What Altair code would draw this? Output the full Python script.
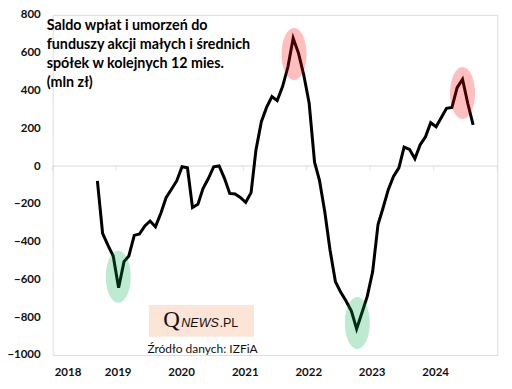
import altair as alt
import pandas as pd

# Monthly 12-month rolling net flows (mln zł), Sep 2018 - Aug 2024
start_month = "2018-09"
values = [
    -79, -356, -420, -476, -644, -506, -476, -367, -360, -317, -291, -321,
    -250, -168, -123, -79, -4, -9, -220, -203, -118, -65, -4, 0,
    -65, -145, -148, -166, -192, -141, 85, 234, 310, 367, 346, 420,
    525, 676, 596, 481, 332, 20, -74, -243, -444, -612, -667, -714,
    -767, -862, -775, -690, -560, -310, -225, -125, -55, -10, 100, 88,
    38, 111, 155, 229, 208, 258, 305, 310, 415, 459, 332, 218,
]
months = [d.strftime("%Y-%m-15") for d in pd.date_range(start_month + "-01", periods=len(values), freq="MS")]

hl_dates = ["2019-01-13", "2021-10-20", "2022-10-19", "2024-06-15"]
hl_values = [-586, 593, -831, 386]
hl_kind = ["low", "high", "low", "high"]

year_ticks = [2018, 2019, 2020, 2021, 2022, 2023, 2024, 2025]
year_labels = [2018, 2019, 2020, 2021, 2022, 2023, 2024]
y_ticks = [-1000, -800, -600, -400, -200, 0, 200, 400, 600, 800]

title_lines = ["Saldo wpłat i umorzeń do", "funduszy akcji małych i średnich",
               "spółek w kolejnych 12 mies.", "(mln zł)"]
source_text = "Źródło danych: IZFiA"

FONT = "Lato"
df = pd.DataFrame({"date": months, "value": values})
hl = pd.DataFrame({"date": hl_dates, "value": hl_values, "kind": hl_kind})
ticks_df = pd.DataFrame({"date": [f"{y}-01-01" for y in year_ticks], "value": [0] * len(year_ticks)})

x_scale = alt.Scale(type="utc",
                    domain=[alt.DateTime(year=2018, month=1, date=1, utc=True),
                            alt.DateTime(year=2025, month=1, date=1, utc=True)])
y_scale = alt.Scale(domain=[-1000, 800], nice=False, zero=False)

x_axis = alt.Axis(values=[alt.DateTime(year=y, month=1, date=1, utc=True) for y in year_labels],
                  format="%Y", formatType="utc", title=None, domain=False, ticks=False, grid=False,
                  labelFont=FONT, labelFontSize=11.5, labelFontWeight="bold", labelColor="#111111",
                  labelPadding=12, labelOffset=1.5)
y_axis = alt.Axis(values=y_ticks, format="d", title=None, domain=False, ticks=False, grid=False,
                  labelFont=FONT, labelFontSize=11.5, labelFontWeight="bold", labelColor="#111111",
                  labelPadding=12.5)

X = alt.X("date:T", scale=x_scale, axis=x_axis)
Y = alt.Y("value:Q", scale=y_scale, axis=y_axis)

base = alt.Chart(df)

zero_rule = alt.Chart(ticks_df).mark_rule(color="#d9d9d9", strokeWidth=1).encode(
    x=alt.X("min(date):T", scale=x_scale, axis=x_axis),
    x2="max(date):T",
    y=alt.Y("min(value):Q", scale=y_scale, axis=y_axis),
)
tick_marks = alt.Chart(ticks_df).mark_tick(color="#d9d9d9", orient="vertical", size=5,
                                           thickness=1, yOffset=2.5).encode(x=X, y=Y)

line = base.mark_line(color="#000000", strokeWidth=3, strokeJoin="miter").encode(x=X, y=Y)

ellipse = ("M 0 -1 C 0.265 -1 0.48 -0.5523 0.48 0 C 0.48 0.5523 0.265 1 0 1 "
           "C -0.265 1 -0.48 0.5523 -0.48 0 C -0.48 -0.5523 -0.265 -1 0 -1 Z")
ellipses = alt.Chart(hl).mark_point(shape=ellipse, size=2704, filled=True, opacity=0.25,
                                    strokeWidth=0).encode(
    x=X, y=Y,
    color=alt.Color("kind:N", scale=alt.Scale(domain=["low", "high"], range=["#00ab4b", "#ff0000"]),
                    legend=None),
)

one = pd.DataFrame({"a": [0]})
title = alt.Chart(one).mark_text(text=title_lines, align="left", baseline="alphabetic",
                                 font=FONT, fontSize=14.3, fontWeight="bold", color="#000000",
                                 lineHeight=19).encode(x=alt.value(-6), y=alt.value(15.2))

box = alt.Chart(one).mark_rect(color="#fce4d6").encode(
    x=alt.value(96.3), x2=alt.value(201.3), y=alt.value(290.2), y2=alt.value(321.9))
q_text = alt.Chart(one).mark_text(text="Q", align="left", baseline="alphabetic",
                                  font="Liberation Serif", fontSize=23, color="#111111").encode(
    x=alt.value(110.6), y=alt.value(312.4))
news_text = alt.Chart(one).mark_text(text="NEWS", align="left", baseline="alphabetic",
                                     font="Liberation Sans", fontSize=12.5, fontStyle="italic",
                                     color="#111111").encode(x=alt.value(128.6), y=alt.value(312.2))
pl_text = alt.Chart(one).mark_text(text=".PL", align="left", baseline="alphabetic",
                                   font="Liberation Sans", fontSize=12.5, color="#111111").encode(
    x=alt.value(166.8), y=alt.value(312.2))
src = alt.Chart(one).mark_text(text=source_text, align="center", baseline="middle",
                               font=FONT, fontSize=12, color="#111111").encode(
    x=alt.value(149.8), y=alt.value(334.2))

chart = alt.layer(zero_rule, tick_marks, line, ellipses, title, box, q_text, news_text, pl_text, src).properties(
    width=444.6, height=340.2,
    autosize=alt.AutoSizeParams(type="none"),
    padding={"left": 44.7, "top": 6.8, "right": 6, "bottom": 24},
).configure_view(stroke=None).configure(background="#ffffff")

chart.save("out.html", embed_options={"renderer": "svg", "actions": False})
